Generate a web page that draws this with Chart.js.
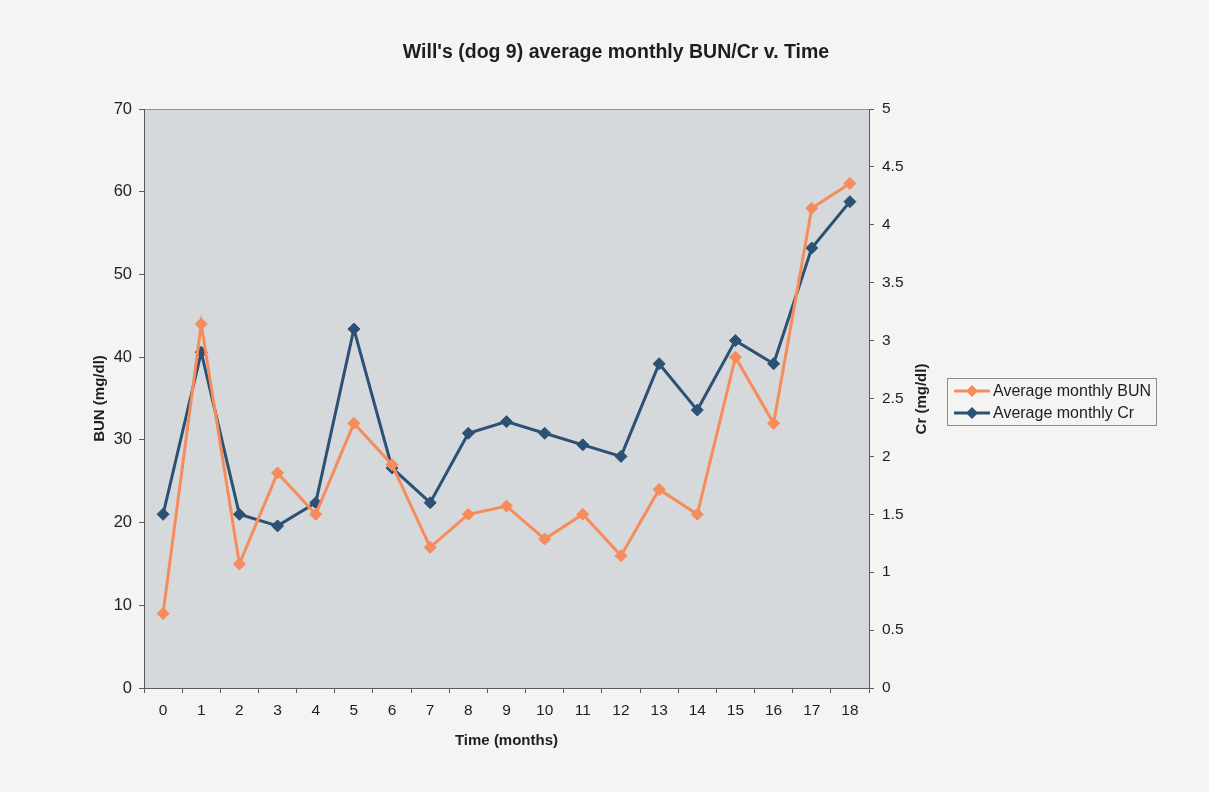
<!DOCTYPE html>
<html>
<head>
<meta charset="utf-8">
<title>Will's (dog 9) average monthly BUN/Cr v. Time</title>
<script src="https://cdn.jsdelivr.net/npm/chart.js@4.4.1/dist/chart.umd.min.js"></script>
<style>
  html, body { margin: 0; padding: 0; background: #f4f5f3; }
  #wrap { position: relative; width: 1209px; height: 792px; }
  #legend {
    position: absolute; left: 947px; top: 378px; width: 210px; height: 48px;
    border: 1px solid #8c8c8c; box-sizing: border-box;
    font: 16px "Liberation Sans", Arial, sans-serif; color: #1e1e1e;
    padding-top: 1px;
  }
  #legend .row { display: flex; align-items: center; height: 22px; }
  #legend svg { margin: 0 3px 0 6px; }
</style>
</head>
<body>
<div id="wrap">
  <canvas id="chart" width="1209" height="792"></canvas>
  <div id="legend"></div>
</div>
<script>
const months = ['0', '1', '2', '3', '4', '5', '6', '7', '8', '9', '10', '11', '12', '13', '14', '15', '16', '17', '18'];
const bun = [9, 44, 15, 26, 21, 32, 27, 17, 21, 22, 18, 21, 16, 24, 21, 40, 32, 58, 61];
const cr = [1.5, 2.9, 1.5, 1.4, 1.6, 3.1, 1.9, 1.6, 2.2, 2.3, 2.2, 2.1, 2.0, 2.8, 2.4, 3.0, 2.8, 3.8, 4.2];
const bunTicks = [0, 10, 20, 30, 40, 50, 60, 70];
const crTicks = [0, 0.5, 1, 1.5, 2, 2.5, 3, 3.5, 4, 4.5, 5];

const seriesNames = ['Average monthly BUN', 'Average monthly Cr'];
const titleText = "Will's (dog 9) average monthly BUN/Cr v. Time";
const xTitle = 'Time (months)';
const bunTitle = 'BUN (mg/dl)';
const crTitle = 'Cr (mg/dl)';

const FONT = '"Liberation Sans", Arial, sans-serif';
const ORANGE = '#f68c5c';
const NAVY = '#2c5174';
const AXIS = '#5a5a5a';
const TEXT = '#1e1e1e';

// grey plot area with a thin frame on top
const plotBackground = {
  id: 'plotBackground',
  beforeDraw(chart) {
    const { ctx, chartArea: a } = chart;
    ctx.save();
    ctx.fillStyle = '#d5d9dc';
    ctx.fillRect(a.left, a.top, a.right - a.left, a.bottom - a.top);
    ctx.strokeStyle = '#8f9397';
    ctx.lineWidth = 1;
    ctx.beginPath();
    ctx.moveTo(a.left, a.top + 0.5);
    ctx.lineTo(a.right, a.top + 0.5);
    ctx.stroke();
    ctx.restore();
  }
};

// right axis title reads bottom-to-top like the left one
const rightTitle = {
  id: 'rightTitle',
  afterDraw(chart) {
    const { ctx } = chart;
    ctx.save();
    ctx.translate(922, 399);
    ctx.rotate(-Math.PI / 2);
    ctx.font = 'bold 15px ' + FONT;
    ctx.fillStyle = TEXT;
    ctx.textAlign = 'center';
    ctx.textBaseline = 'middle';
    ctx.fillText(crTitle, 0, 0);
    ctx.restore();
  }
};

function lineSet(label, data, color, axis) {
  return {
    label: label,
    data: data,
    yAxisID: axis,
    borderColor: color,
    backgroundColor: color,
    borderWidth: 3,
    pointStyle: 'rectRot',
    pointRadius: 6,
    pointHoverRadius: 6,
    pointBorderWidth: 1,
    tension: 0,
  };
}

new Chart(document.getElementById('chart'), {
  type: 'line',
  data: {
    labels: months,
    datasets: [
      lineSet(seriesNames[0], bun, ORANGE, 'y'),
      lineSet(seriesNames[1], cr, NAVY, 'y1'),
    ],
  },
  options: {
    responsive: false,
    animation: false,
    layout: { padding: { left: 23, right: 0, top: 0, bottom: 0 } },
    plugins: {
      legend: { display: false },
      tooltip: { enabled: false },
      title: {
        display: true,
        text: titleText,
        color: TEXT,
        font: { family: FONT, size: 19.5, weight: 'bold' },
        padding: { top: 41.3, bottom: 44.3 },
      },
    },
    scales: {
      x: {
        offset: true,
        grid: { offset: true, drawOnChartArea: false, drawTicks: true, tickLength: 5, color: AXIS },
        border: { display: true, color: AXIS },
        ticks: { color: TEXT, font: { family: FONT, size: 15.5 }, padding: 8, maxRotation: 0 },
        title: {
          display: true, text: xTitle, color: TEXT,
          font: { family: FONT, size: 15, weight: 'bold' },
          padding: { top: 0, bottom: 42 },
        },
        afterFit(scale) { scale.height = 104; },
      },
      y: {
        position: 'left',
        min: 0, max: 70,
        afterBuildTicks(scale) { scale.ticks = bunTicks.map(v => ({ value: v })); },
        grid: { drawOnChartArea: false, drawTicks: true, tickLength: 5, color: AXIS },
        border: { display: true, color: AXIS },
        ticks: { color: TEXT, font: { family: FONT, size: 16.5 }, padding: 7 },
        title: {
          display: true, text: bunTitle, color: TEXT,
          font: { family: FONT, size: 15, weight: 'bold' },
          padding: { top: 68, bottom: 0 },
        },
        afterFit(scale) { scale.width = 121; },
      },
      y1: {
        position: 'right',
        min: 0, max: 5,
        afterBuildTicks(scale) { scale.ticks = crTicks.map(v => ({ value: v })); },
        grid: { drawOnChartArea: false, drawTicks: true, tickLength: 5, color: AXIS },
        border: { display: true, color: AXIS },
        ticks: { color: TEXT, font: { family: FONT, size: 15.5 }, padding: 8, callback: v => String(v) },
        afterFit(scale) { scale.width = 340; },
      },
    },
  },
  plugins: [plotBackground, rightTitle],
});

// legend: line with a diamond marker, then the series name
const legendEl = document.getElementById('legend');
[[seriesNames[0], ORANGE], [seriesNames[1], NAVY]].forEach(([name, color]) => {
  const row = document.createElement('div');
  row.className = 'row';
  row.innerHTML =
    '<svg width="36" height="12" viewBox="0 0 36 12">' +
    '<line x1="0" y1="6" x2="36" y2="6" stroke="' + color + '" stroke-width="3"/>' +
    '<polygon points="18,0 24,6 18,12 12,6" fill="' + color + '"/>' +
    '</svg><span>' + name + '</span>';
  legendEl.appendChild(row);
});
</script>
</body>
</html>
